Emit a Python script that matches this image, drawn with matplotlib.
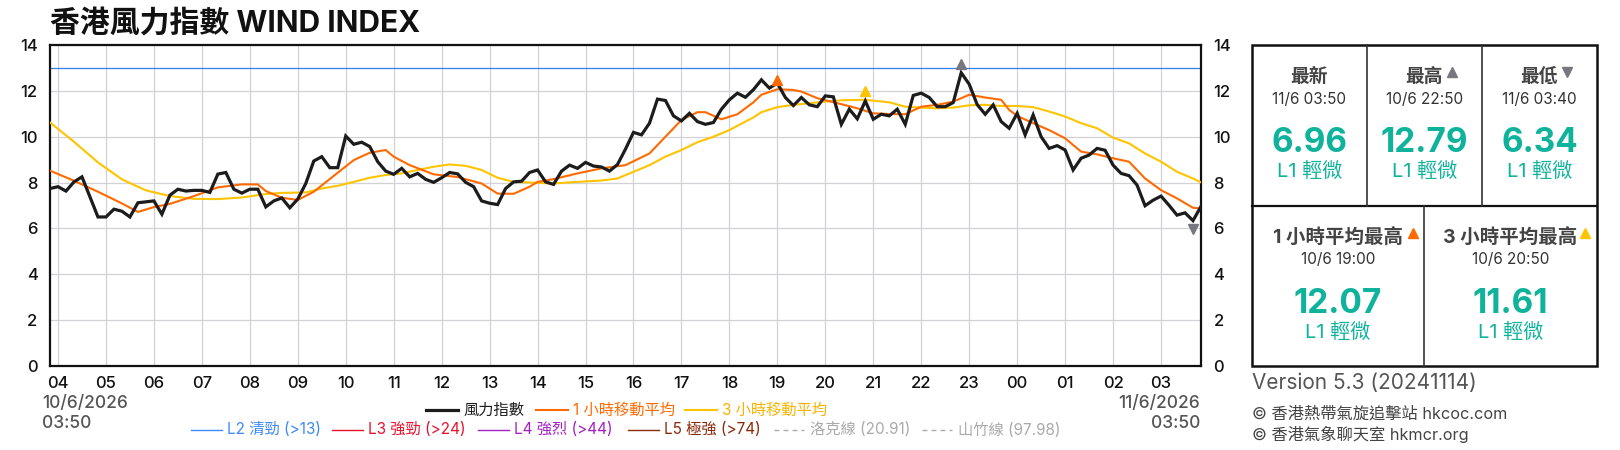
import numpy as np
import pandas as pd
import matplotlib
matplotlib.use("Agg")
import matplotlib.pyplot as plt
import matplotlib.dates as mdates
from matplotlib.patches import Rectangle

plt.rcParams['font.family'] = ['Inter', 'Noto Sans CJK TC', 'DejaVu Sans']

# ---- data (10 minute steps from 10/6/2026 03:50) ----
start = "2026-06-10 03:50"

wind_index = [
    7.74, 7.82, 7.63, 8.03, 8.25, 7.38, 6.50, 6.50, 6.84, 6.75,
    6.50, 7.12, 7.16, 7.20, 6.62, 7.45, 7.71, 7.63, 7.66, 7.66,
    7.57, 8.37, 8.44, 7.71, 7.54, 7.71, 7.71, 6.94, 7.20, 7.33,
    6.90, 7.28, 7.96, 8.94, 9.13, 8.65, 8.65, 10.03, 9.67, 9.76,
    9.57, 8.91, 8.50, 8.36, 8.62, 8.25, 8.40, 8.14, 8.01, 8.21,
    8.44, 8.38, 8.01, 7.82, 7.20, 7.10, 7.04, 7.74, 8.03, 8.06,
    8.44, 8.55, 8.03, 7.92, 8.50, 8.76, 8.62, 8.88, 8.72, 8.68,
    8.50, 8.79, 9.46, 10.19, 10.08, 10.59, 11.64, 11.58, 10.91, 10.69,
    11.02, 10.66, 10.54, 10.62, 11.20, 11.61, 11.90, 11.72, 12.05, 12.48,
    12.12, 12.34, 11.71, 11.36, 11.71, 11.39, 11.31, 11.78, 11.74, 10.54,
    11.20, 10.78, 11.56, 10.76, 10.98, 10.91, 11.20, 10.54, 11.80, 11.90,
    11.71, 11.31, 11.31, 11.49, 12.79, 12.29, 11.40, 10.98, 11.39, 10.66,
    10.37, 11.02, 10.08, 10.95, 10.00, 9.49, 9.61, 9.42, 8.55, 9.06,
    9.20, 9.49, 9.41, 8.76, 8.40, 8.30, 7.89, 6.99, 7.23, 7.41,
    7.01, 6.58, 6.68, 6.34, 6.96,
]

# 1 hour moving average, read at these steps
ma1_steps = [0, 3, 6, 9, 11, 13, 15, 18, 21, 24, 26, 27, 29, 31, 33, 36, 38, 40,
             42, 43, 45, 48, 51, 54, 56, 58, 60, 61, 63, 66, 69, 72, 75, 77, 79,
             81, 82, 84, 86, 88, 89, 91, 93, 94, 96, 99, 101, 103, 105, 107, 109,
             111, 113, 115, 117, 119, 120, 121, 123, 125, 127, 129, 131, 133, 135,
             137, 139, 141, 143, 144]
ma1_vals = [8.52, 8.08, 7.60, 7.09, 6.72, 6.93, 7.07, 7.41, 7.79, 7.92, 7.92, 7.63,
            7.34, 7.24, 7.60, 8.43, 8.98, 9.30, 9.42, 9.13, 8.76, 8.36, 8.24, 7.96,
            7.52, 7.51, 7.82, 8.03, 8.15, 8.40, 8.62, 8.76, 9.27, 10.00, 10.73,
            11.07, 11.07, 10.76, 10.98, 11.50, 11.83, 12.07, 12.04, 11.97, 11.68,
            11.42, 11.24, 11.02, 10.99, 10.98, 11.31, 11.39, 11.53, 11.83, 11.71,
            11.61, 11.17, 10.91, 10.59, 10.29, 9.93, 9.35, 9.23, 9.06, 8.91, 8.18,
            7.67, 7.31, 6.90, 6.87]

# 3 hour moving average, read at these steps
ma3_steps = [0, 3, 6, 9, 12, 15, 18, 21, 24, 27, 29, 32, 34, 36, 38, 40, 42, 44,
             46, 48, 50, 52, 54, 56, 58, 61, 63, 66, 69, 71, 73, 75, 77, 79, 81,
             83, 85, 87, 88, 89, 91, 93, 95, 97, 99, 102, 105, 107, 109, 111, 113,
             115, 117, 119, 121, 123, 125, 127, 129, 131, 133, 135, 137, 139, 141,
             143, 144]
ma3_vals = [10.62, 9.78, 8.88, 8.14, 7.66, 7.41, 7.29, 7.28, 7.35, 7.50, 7.55, 7.57,
            7.74, 7.86, 8.03, 8.21, 8.33, 8.40, 8.55, 8.69, 8.79, 8.73, 8.55, 8.21,
            8.03, 7.99, 7.96, 8.03, 8.09, 8.18, 8.47, 8.76, 9.13, 9.42, 9.76, 10.00,
            10.29, 10.66, 10.84, 11.07, 11.29, 11.39, 11.46, 11.53, 11.59, 11.61,
            11.50, 11.31, 11.27, 11.24, 11.27, 11.37, 11.39, 11.34, 11.34, 11.29,
            11.10, 10.88, 10.59, 10.37, 9.96, 9.71, 9.27, 8.91, 8.47, 8.18, 8.01]

level_names = ["L2 清勁 (>13)", "L3 強勁 (>24)", "L4 強烈 (>44)", "L5 極強 (>74)",
               "洛克線 (20.91)", "山竹線 (97.98)"]
series_names = ["風力指數", "1 小時移動平均", "3 小時移動平均"]

times = pd.date_range(start, periods=len(wind_index), freq="10min")
wi = np.array(wind_index)
ma1 = np.array(ma1_vals)
ma3 = np.array(ma3_vals)
t1 = times[ma1_steps]
t3 = times[ma3_steps]

BLACK = "#1c1c1c"
ORANGE = "#ff6a00"
YELLOW = "#ffc400"
TEAL = "#0fb39c"
GRAYTRI = "#77777f"

fig = plt.figure(figsize=(16.2, 4.5), dpi=100)

def fx(px):
    return px / 1620

def fy(py):
    return 1 - py / 450

ax = fig.add_axes([fx(50), fy(366), 1151 / 1620, 321 / 450])
ax.axhline(13, color="#2f7ff0", lw=0.9, zorder=2)
ax.plot(t3, ma3, color=YELLOW, lw=1.5, zorder=3)
ax.plot(t1, ma1, color=ORANGE, lw=1.5, zorder=4)
ax.plot(times, wi, color=BLACK, lw=2.3, zorder=5, solid_joinstyle="miter")

# markers for extremes
i_hi, i_lo = wi.argmax(), wi.argmin()
j1, j3 = ma1.argmax(), ma3.argmax()
ax.plot(times[i_hi], wi[i_hi] + 0.38, marker="^", ms=7, color=GRAYTRI, zorder=6)
ax.plot(times[i_lo], wi[i_lo] - 0.38, marker="v", ms=7, color=GRAYTRI, zorder=6)
ax.plot(t1[j1], ma1[j1] + 0.4, marker="^", ms=7, color=ORANGE, zorder=6)
ax.plot(t3[j3], ma3[j3] + 0.4, marker="^", ms=7, color=YELLOW, zorder=6)

ax.set_xlim(times[0], times[-1])
ax.set_ylim(0, 14)
ax.set_yticks(np.arange(0, 15, 2))
ax.xaxis.set_major_locator(mdates.HourLocator())
ax.xaxis.set_major_formatter(mdates.DateFormatter("%H"))
ax.grid(True, color="#d2d2d6", lw=0.9, zorder=0)
ax.tick_params(axis="both", length=0, labelsize=12, colors="#111111")
ax.tick_params(axis="y", pad=9, labelright=True)
ax.tick_params(axis="x", pad=7)
for lbl in ax.get_xticklabels() + ax.get_yticklabels():
    lbl.set_fontweight("medium")
for s in ax.spines.values():
    s.set_linewidth(1.6)
    s.set_color("#111111")

# overlay in figure pixels for text and legend
lay = fig.add_axes([0, 0, 1, 1], facecolor="none")
lay.set_xlim(0, 1620)
lay.set_ylim(450, 0)
lay.axis("off")

lay.text(50, 23, "香港風力指數 WIND INDEX", fontsize=21.5, fontweight="bold",
         va="center", ha="left", color="#111111")

fmt = "%-d/%-m/%Y"
dkw = dict(fontsize=12.5, color="#555555", va="center", fontweight="medium")
lay.text(42, 403, times[0].strftime(fmt), **dkw)
lay.text(42, 423, times[0].strftime("%H:%M"), **dkw)
lay.text(1200, 403, times[-1].strftime(fmt), ha="right", **dkw)
lay.text(1200, 423, times[-1].strftime("%H:%M"), ha="right", **dkw)

# legend rows
row1 = [(426, BLACK, 2.3, BLACK), (536, ORANGE, 1.5, ORANGE), (685, YELLOW, 1.5, "#f5b400")]
for (x0, c, lw, tc), name in zip(row1, series_names):
    lay.plot([x0, x0 + 32], [410, 410], color=c, lw=lw)
    lay.text(x0 + 37, 410, name, fontsize=11, color=tc, va="center")

row2 = [(191, "#3d8af7", "-"), (332, "#e8112d", "-"), (478, "#a321c2", "-"),
        (628, "#8b2a0a", "-"), (774, "#aaaaaa", "--"), (922, "#aaaaaa", "--")]
for (x0, c, ls), name in zip(row2, level_names):
    if ls == "--":
        lay.plot([x0, x0 + 30], [430, 430], color=c, lw=1, dashes=(3.5, 3))
    else:
        lay.plot([x0, x0 + 31], [430, 430], color=c, lw=1)
    lay.text(x0 + 36, 430, name, fontsize=11, color=c, va="center")

# summary panel
lay.add_patch(Rectangle((1252, 45), 345, 321, fill=False, lw=1.8, ec="#111111"))
lay.plot([1252, 1597], [205.5, 205.5], color="#111111", lw=1.6)
lay.plot([1367, 1367], [45, 205.5], color="#333333", lw=1.2)
lay.plot([1482, 1482], [45, 205.5], color="#333333", lw=1.2)
lay.plot([1424, 1424], [205.5, 366], color="#333333", lw=1.2)

def cell(cx, y0, title, t, v, tsize=13.5):
    lay.text(cx, y0, title, fontsize=tsize, fontweight="bold", color="#444444", ha="center", va="center")
    lay.text(cx, y0 + 22, t.strftime("%-d/%-m %H:%M"), fontsize=11, color="#333333", ha="center", va="center")
    lay.text(cx, y0 + 66, f"{v:.2f}", fontsize=24, fontweight="bold", color=TEAL, ha="center", va="center")
    lay.text(cx, y0 + 94, "L1 輕微", fontsize=14.5, color=TEAL, ha="center", va="center")

cell(1309.5, 77, "最新", times[-1], wi[-1])
cell(1424.5, 77, "最高", times[i_hi], wi[i_hi])
cell(1539.5, 77, "最低", times[i_lo], wi[i_lo])
cell(1338, 238, "1 小時平均最高", t1[j1], ma1[j1], 14)
cell(1510.5, 238, "3 小時平均最高", t3[j3], ma3[j3], 14)

lay.plot(1452, 72, marker="^", ms=7, color=GRAYTRI)
lay.plot(1567, 72, marker="v", ms=7, color=GRAYTRI)
lay.plot(1413, 233, marker="^", ms=7, color=ORANGE)
lay.plot(1585, 233, marker="^", ms=7, color=YELLOW)

lay.text(1252, 383, "Version 5.3 (20241114)", fontsize=15, color="#555555", va="center")
lay.text(1252, 414, "© 香港熱帶氣旋追擊站 hkcoc.com", fontsize=11.7, color="#444444", va="center")
lay.text(1252, 434, "© 香港氣象聊天室 hkmcr.org", fontsize=11.7, color="#444444", va="center")

fig.savefig("out.png", dpi=100)
